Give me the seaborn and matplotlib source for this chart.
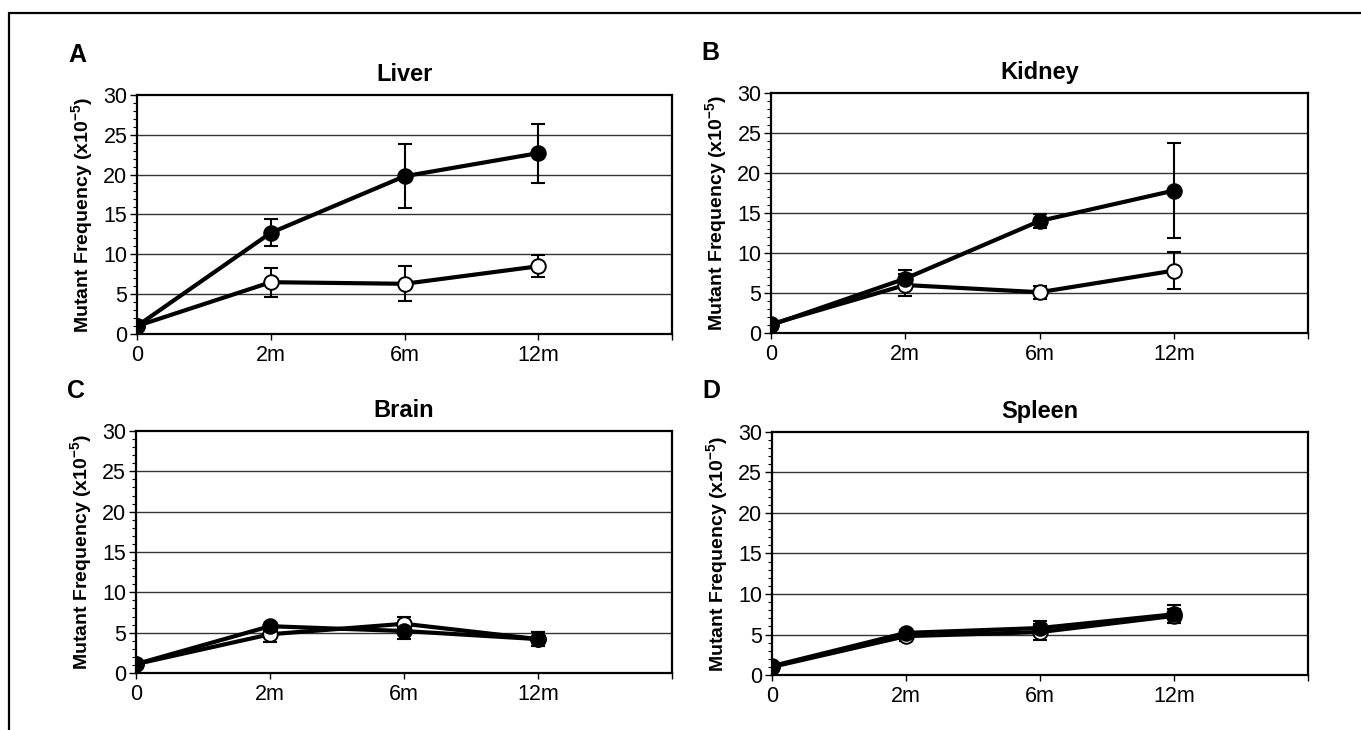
import numpy as np
import pandas as pd
import matplotlib
matplotlib.use('Agg')
import matplotlib.pyplot as plt
from matplotlib.patches import Rectangle
from matplotlib.ticker import MultipleLocator
import seaborn as sns

# ── data ─────────────────────────────────────────────────────
TIMES = ['0', '2m', '6m', '12m']
TISSUES = ['Liver', 'Kidney', 'Brain', 'Spleen']
LETTERS = ['A', 'B', 'C', 'D']

liver_filled = [1.0, 12.7, 19.8, 22.7]
liver_filled_err = [0.0, 1.7, 4.0, 3.7]
liver_open = [1.0, 6.5, 6.3, 8.5]
liver_open_err = [0.0, 1.8, 2.2, 1.4]

kidney_filled = [1.0, 6.8, 14.0, 17.8]
kidney_filled_err = [0.0, 1.1, 0.9, 5.9]
kidney_open = [1.1, 6.0, 5.1, 7.8]
kidney_open_err = [0.0, 1.4, 0.8, 2.3]

brain_filled = [1.1, 5.8, 5.2, 4.2]
brain_filled_err = [0.0, 0.3, 1.0, 0.9]
brain_open = [1.1, 4.8, 6.1, 4.2]
brain_open_err = [0.0, 0.9, 0.8, 0.9]

spleen_filled = [1.1, 5.2, 5.8, 7.5]
spleen_filled_err = [0.0, 0.3, 0.9, 1.1]
spleen_open = [1.0, 4.8, 5.3, 7.3]
spleen_open_err = [0.0, 0.6, 1.0, 0.9]

# open series first, filled drawn on top
SERIES = {
    'Liver':  [(liver_open, liver_open_err, 'white'), (liver_filled, liver_filled_err, 'black')],
    'Kidney': [(kidney_open, kidney_open_err, 'white'), (kidney_filled, kidney_filled_err, 'black')],
    'Brain':  [(brain_open, brain_open_err, 'white'), (brain_filled, brain_filled_err, 'black')],
    'Spleen': [(spleen_open, spleen_open_err, 'white'), (spleen_filled, spleen_filled_err, 'black')],
}

# ── style ────────────────────────────────────────────────────
sns.set_style('white')
plt.rcParams['font.family'] = ['Liberation Sans', 'DejaVu Sans']
plt.rcParams['text.color'] = 'black'
plt.rcParams['xtick.color'] = 'black'
plt.rcParams['ytick.color'] = 'black'
plt.rcParams['axes.labelcolor'] = 'black'
plt.rcParams['mathtext.fontset'] = 'custom'
plt.rcParams['mathtext.rm'] = 'Liberation Sans'
plt.rcParams['mathtext.bf'] = 'Liberation Sans:bold'

fig = plt.figure(figsize=(13.61, 7.30), dpi=100)

# axes positions in figure fractions (left, bottom, width, height)
POS = [
    (0.1007, 0.5425, 0.3931, 0.3274),
    (0.5665, 0.5438, 0.3946, 0.3288),
    (0.0999, 0.0781, 0.3939, 0.3315),
    (0.5672, 0.0753, 0.3940, 0.3330),
]

x_pos = np.arange(len(TIMES))

for i, tissue in enumerate(TISSUES):
    ax = fig.add_axes(POS[i])

    for vals, err, face in SERIES[tissue]:
        ax.errorbar(x_pos, vals, yerr=err, fmt='none', ecolor='black',
                    elinewidth=1.5, capsize=5, capthick=1.5, zorder=3)
        df = pd.DataFrame({'t': x_pos, 'mf': vals})
        sns.lineplot(data=df, x='t', y='mf', ax=ax, color='black', lw=3,
                     marker='o', markersize=10.5, markerfacecolor=face,
                     markeredgecolor='black', markeredgewidth=1.4,
                     errorbar=None, legend=False, zorder=4)

    ax.set_xlim(0, 4)
    ax.set_ylim(0, 30)
    ax.set_xticks(np.arange(5))
    ax.set_xticklabels(TIMES + [''], fontsize=15.5)
    ax.yaxis.set_major_locator(MultipleLocator(5))
    ax.yaxis.set_minor_locator(MultipleLocator(1))
    ax.tick_params(axis='y', which='major', direction='out', length=5, width=1,
                   labelsize=15.5, left=True, pad=2)
    ax.tick_params(axis='y', which='minor', direction='out', length=3, width=0.8, left=True)
    ax.tick_params(axis='x', which='major', direction='out', length=4, width=1,
                   bottom=True, pad=4)
    for y in range(5, 30, 5):
        ax.axhline(y, color='#333333', lw=1.0, zorder=1)
    for sp in ax.spines.values():
        sp.set_color('black')
        sp.set_linewidth(1.6)
        sp.set_visible(True)
    ax.set_xlabel('')
    ax.set_ylabel(r'Mutant Frequency (x10$^{\mathbf{-5}}$)', fontsize=14,
                  fontweight='bold', labelpad=5)
    ax.set_title(tissue, fontsize=17, fontweight='bold', pad=10)
    ax.text(-0.129, 1.167, LETTERS[i], transform=ax.transAxes, fontsize=18,
            fontweight='bold', ha='left', va='center')

# outer frame (only top and left edges fall inside the image)
fig.add_artist(Rectangle((9 / 1361, -0.05), 1.1, 1.05 - 13 / 730, fill=False,
                         lw=1.6, edgecolor='black', transform=fig.transFigure,
                         clip_on=False))

plt.savefig('out.png', dpi=100)
